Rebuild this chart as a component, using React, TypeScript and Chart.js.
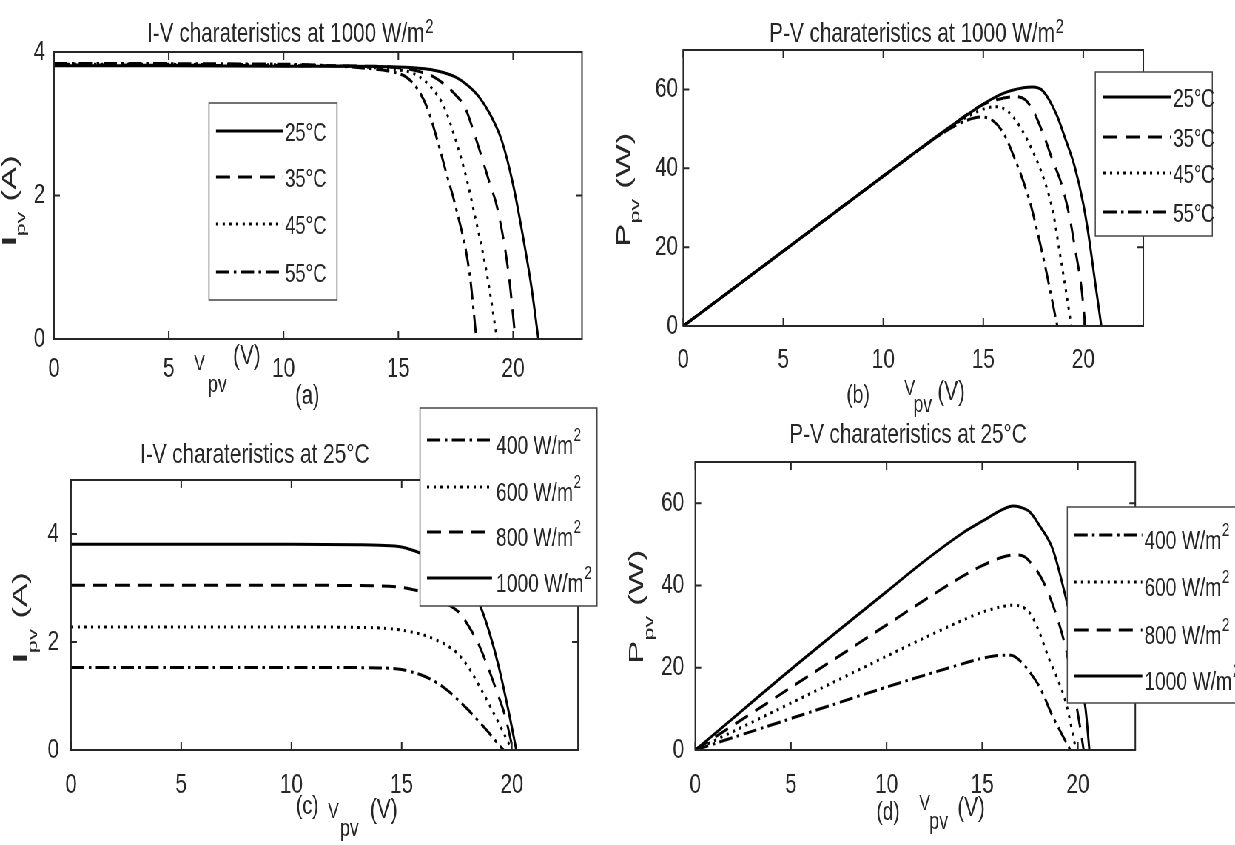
import React, { useEffect, useRef } from 'react';
import { Chart, registerables } from 'chart.js';
Chart.register(...registerables);

// horizontal compression of the whole figure (the reference is squeezed sideways)
const S = 0.74;
const FONT = '"Liberation Sans", Arial, Helvetica, sans-serif';
const INK = '#262626';

// ---------- data ----------
const TEMP_LABELS = ['25°C', '35°C', '45°C', '55°C'];
const IRR_LABELS = ['400 W/m^2', '600 W/m^2', '800 W/m^2', '1000 W/m^2'];
const TITLES = [
  'I-V charateristics at 1000 W/m^2',
  'P-V charateristics at 1000 W/m^2',
  'I-V charateristics at 25°C',
  'P-V charateristics at 25°C',
];

// (a) I-V at 1000 W/m2
const VA25 = [0, 5, 10, 13, 15, 16, 16.5, 17, 17.5, 18, 18.5, 19, 19.5, 20, 20.5, 20.8, 21.1];
const IA25 = [3.81, 3.81, 3.8, 3.8, 3.79, 3.77, 3.75, 3.71, 3.65, 3.54, 3.38, 3.13, 2.77, 2.15, 1.3, 0.72, 0];
const VA35 = [0, 10, 14, 15, 15.5, 16, 16.5, 17, 17.5, 17.9, 18.4, 19, 19.3, 19.8, 20.1];
const IA35 = [3.82, 3.81, 3.8, 3.78, 3.76, 3.72, 3.66, 3.55, 3.4, 3.23, 2.77, 2.15, 1.84, 0.92, 0];
const VA45 = [0, 10, 13, 14, 15, 15.5, 15.9, 16.5, 17, 17.5, 18, 18.25, 18.85, 19.3];
const IA45 = [3.83, 3.82, 3.8, 3.78, 3.75, 3.72, 3.66, 3.48, 3.23, 2.77, 2.2, 1.84, 0.92, 0];
const VA55 = [0, 10, 12, 13, 14, 14.5, 15, 15.3, 15.8, 16.25, 16.7, 17.1, 17.5, 18.1, 18.4];
const IA55 = [3.84, 3.83, 3.81, 3.79, 3.76, 3.74, 3.7, 3.66, 3.5, 3.23, 2.77, 2.3, 1.84, 0.92, 0];

// (b) P-V at 1000 W/m2
const VB25 = [0, 5, 10, 13, 15, 16, 17, 17.45, 18, 18.67, 19.1, 19.57, 20, 20.25, 20.6, 20.9];
const PB25 = [0, 19, 38, 49.3, 56.3, 59, 60.4, 60.6, 59.5, 53.5, 47.5, 40.4, 31, 23.5, 10.8, 0];
const VB35 = [0, 5, 10, 13, 15, 16, 16.6, 17.1, 17.5, 17.98, 18.5, 18.9, 19.3, 19.6, 19.9, 20.1];
const PB35 = [0, 19, 38, 49.2, 56.2, 57.8, 58.2, 57.4, 54.5, 48.9, 41.5, 36.2, 28, 19.3, 10, 0];
const VB45 = [0, 5, 10, 13, 14, 15, 15.6, 16, 16.5, 17.2, 18.1, 18.5, 18.8, 19.1, 19.4];
const PB45 = [0, 19, 38, 49.1, 52.5, 55, 55.6, 55.2, 53, 47.2, 36.2, 28.5, 19.3, 10, 0];
const VB55 = [0, 5, 10, 13, 14, 14.9, 15.5, 16, 16.4, 17.3, 17.7, 18.1, 18.4, 18.7];
const PB55 = [0, 19, 38, 49, 51.8, 53, 52, 49, 44.6, 32, 24, 15, 7.5, 0];

// (c) I-V at 25°C
const VC400 = [0, 10, 14, 15, 15.5, 16, 16.5, 17, 17.5, 18, 18.5, 19, 19.3, 19.62];
const IC400 = [1.53, 1.53, 1.52, 1.49, 1.44, 1.37, 1.27, 1.13, 0.95, 0.75, 0.53, 0.3, 0.15, 0];
const VC600 = [0, 10, 13, 14, 15, 16, 16.5, 17, 17.5, 18, 18.5, 19, 19.5, 20];
const IC600 = [2.28, 2.28, 2.27, 2.26, 2.22, 2.13, 2.05, 1.95, 1.8, 1.55, 1.2, 0.82, 0.42, 0];
const VC800 = [0, 10, 14, 15, 15.5, 16, 16.5, 17, 17.6, 18, 18.5, 18.9, 19.3, 19.7, 20.05];
const IC800 = [3.05, 3.05, 3.04, 3.01, 2.97, 2.92, 2.84, 2.72, 2.55, 2.32, 1.95, 1.55, 1.1, 0.62, 0];
const VC1000 = [0, 10, 13, 14, 15, 15.5, 16, 17, 17.5, 18, 18.55, 19, 19.4, 19.9, 20.2];
const IC1000 = [3.81, 3.81, 3.8, 3.79, 3.76, 3.7, 3.62, 3.45, 3.32, 3.08, 2.68, 2.15, 1.55, 0.62, 0];

// (d) P-V at 25°C
const VD400 = [0, 5, 10, 12, 14, 15, 16, 16.5, 17, 17.5, 18, 18.7, 19.2, 19.6];
const PD400 = [0, 7.65, 15.3, 18.2, 21, 22.3, 23, 23, 21.6, 18.8, 15.3, 8, 3.5, 0];
const VD600 = [0, 5, 10, 12, 14, 15, 16, 16.6, 17.2, 17.6, 18, 18.5, 18.9, 19.4, 19.9];
const PD600 = [0, 11.4, 22.8, 27.3, 31.6, 33.5, 34.8, 35.2, 34.5, 32.5, 28.4, 22, 17.7, 11, 0];
const VD800 = [0, 5, 10, 12, 14, 15, 16, 16.7, 17.2, 17.7, 18.15, 18.9, 19.4, 19.8, 20.1, 20.3];
const PD800 = [0, 15.2, 30.4, 36.5, 42.3, 44.8, 46.8, 47.4, 47, 44.5, 41.3, 32.4, 24, 14, 6, 0];
const VD1000 = [0, 1, 5, 10, 12, 14, 15, 16, 16.6, 17, 17.5, 18, 18.7, 19.4, 19.8, 20.1, 20.4, 20.6];
const PD1000 = [0, 3.9, 19.6, 38.5, 46, 52.8, 55.6, 58.3, 59.3, 59, 57.8, 54.5, 48.6, 36.4, 28, 18, 10, 0];

// ---------- styles ----------
const STYLES: Record<string, { dash: number[]; width: number }> = {
  solid: { dash: [], width: 3 },
  dashed: { dash: [19, 11], width: 3 },
  dotted: { dash: [3, 6], width: 3 },
  dashdot: { dash: [18, 6, 3.5, 6], width: 3 },
};

function mkDs(label: string, xs: number[], ys: number[], style: string) {
  return {
    label,
    data: xs.map((x, i) => ({ x, y: ys[i] })),
    borderColor: '#000',
    backgroundColor: '#000',
    borderWidth: STYLES[style].width,
    borderDash: STYLES[style].dash,
    borderCapStyle: 'butt',
    borderJoinStyle: 'round',
    pointRadius: 0,
    fill: false,
    cubicInterpolationMode: 'monotone',
  };
}

const PANELS: any[] = [
  {
    key: 'a', ox: 0, oy: 0, w: 620, h: 420,
    area: { l: 54, t: 52, r: 582, b: 339 }, yMax: 4, yStep: 2, xPad: 13, yPad: 12,
    datasets: () => [
      mkDs(TEMP_LABELS[0], VA25, IA25, 'solid'),
      mkDs(TEMP_LABELS[1], VA35, IA35, 'dashed'),
      mkDs(TEMP_LABELS[2], VA45, IA45, 'dotted'),
      mkDs(TEMP_LABELS[3], VA55, IA55, 'dashdot'),
    ],
    title: { text: TITLES[0], x: 147, y: 42 },
    xlab: [
      { t: 'V', x: 194, y: 370, size: 22 },
      { t: 'pv', x: 208, y: 392, size: 24 },
      { t: '(V)', x: 233, y: 364, size: 28 },
      { t: '(a)', x: 295, y: 404, size: 27 },
    ],
    ylab: { bx: 16, sy: 246, parts: [{ t: 'I', size: 27, bold: true, shift: 0 }, { t: 'pv', size: 18, shift: 9 }, { t: ' (A)', size: 27, shift: 0 }] },
    legend: { box: [209, 103, 337, 300], line: [216, 283], tx: 285, rows: [131, 177, 224, 272], dy: 9.5, size: 25 },
  },
  {
    key: 'b', ox: 605, oy: 0, w: 630, h: 420,
    area: { l: 683, t: 50, r: 1143, b: 326 }, yMax: 70, yStep: 20, xPad: 17, yPad: 7,
    datasets: () => [
      mkDs(TEMP_LABELS[0], VB25, PB25, 'solid'),
      mkDs(TEMP_LABELS[1], VB35, PB35, 'dashed'),
      mkDs(TEMP_LABELS[2], VB45, PB45, 'dotted'),
      mkDs(TEMP_LABELS[3], VB55, PB55, 'dashdot'),
    ],
    title: { text: TITLES[1], x: 769, y: 42 },
    xlab: [
      { t: '(b)', x: 846, y: 403, size: 26 },
      { t: 'V', x: 904, y: 395, size: 22 },
      { t: 'pv', x: 913, y: 412, size: 24 },
      { t: '(V)', x: 937, y: 400, size: 28 },
    ],
    ylab: { bx: 630, sy: 247, parts: [{ t: 'P', size: 27, shift: 0 }, { t: 'pv', size: 18, shift: 9 }, { t: ' (W)', size: 27, shift: 0 }] },
    legend: { box: [1095, 72, 1212, 236], line: [1103, 1171], tx: 1173, rows: [97, 137, 173, 212], dy: 9.5, size: 25 },
  },
  {
    key: 'c', ox: 0, oy: 400, w: 620, h: 445,
    area: { l: 71, t: 480, r: 578, b: 750 }, yMax: 5, yStep: 2, xPad: 18, yPad: 16,
    datasets: () => [
      mkDs(IRR_LABELS[0], VC400, IC400, 'dashdot'),
      mkDs(IRR_LABELS[1], VC600, IC600, 'dotted'),
      mkDs(IRR_LABELS[2], VC800, IC800, 'dashed'),
      mkDs(IRR_LABELS[3], VC1000, IC1000, 'solid'),
    ],
    title: { text: TITLES[2], x: 140, y: 463 },
    xlab: [
      { t: '(c)', x: 296, y: 814, size: 26 },
      { t: 'V', x: 328, y: 818, size: 22 },
      { t: 'pv', x: 340, y: 836, size: 24 },
      { t: '(V)', x: 370, y: 818, size: 28 },
    ],
    ylab: { bx: 27, sy: 663, parts: [{ t: 'I', size: 27, bold: true, shift: 0 }, { t: 'pv', size: 18, shift: 10 }, { t: ' (A)', size: 27, shift: 0 }] },
    legend: { box: [420, 408, 597, 606], line: [427, 492], tx: 496, rows: [440, 487, 532, 578], dy: 14, size: 26 },
  },
  {
    key: 'd', ox: 605, oy: 400, w: 630, h: 445,
    area: { l: 695, t: 462, r: 1135, b: 750 }, yMax: 70, yStep: 20, xPad: 18, yPad: 15,
    datasets: () => [
      mkDs(IRR_LABELS[0], VD400, PD400, 'dashdot'),
      mkDs(IRR_LABELS[1], VD600, PD600, 'dotted'),
      mkDs(IRR_LABELS[2], VD800, PD800, 'dashed'),
      mkDs(IRR_LABELS[3], VD1000, PD1000, 'solid'),
    ],
    title: { text: TITLES[3], x: 789, y: 443 },
    xlab: [
      { t: '(d)', x: 876, y: 820, size: 26 },
      { t: 'V', x: 919, y: 810, size: 22 },
      { t: 'pv', x: 929, y: 829, size: 24 },
      { t: '(V)', x: 957, y: 816, size: 28 },
    ],
    ylab: { bx: 643, sy: 664, parts: [{ t: 'P', size: 27, shift: 0 }, { t: 'pv', size: 18, shift: 10 }, { t: ' (W)', size: 27, shift: 0 }] },
    legend: { box: [1067, 507, 1250, 703], line: [1074, 1142], tx: 1144, rows: [535, 582, 630, 676], dy: 14, size: 26 },
  },
];

// text with "^x" superscripts
function drawRich(ctx: CanvasRenderingContext2D, text: string, x: number, y: number, size: number, raise: number) {
  const segs = text.split('^');
  ctx.font = `${size}px ${FONT}`;
  ctx.fillText(segs[0], x, y);
  let cx = x + ctx.measureText(segs[0]).width;
  for (let i = 1; i < segs.length; i++) {
    const sup = segs[i].slice(0, 1);
    const rest = segs[i].slice(1);
    const ss = Math.round(size * 0.7);
    ctx.font = `${ss}px ${FONT}`;
    ctx.fillText(sup, cx + 1, y - size * raise);
    cx += ctx.measureText(sup).width + 1;
    if (rest) {
      ctx.font = `${size}px ${FONT}`;
      ctx.fillText(rest, cx, y);
      cx += ctx.measureText(rest).width;
    }
  }
}

const framePlugin = {
  id: 'frame',
  afterDatasetsDraw(chart: any) {
    const { ctx, chartArea: a, scales } = chart;
    ctx.save();
    ctx.strokeStyle = INK;
    ctx.lineWidth = 2;
    ctx.setLineDash([]);
    ctx.strokeRect(a.left, a.top, a.right - a.left, a.bottom - a.top);
    ctx.beginPath();
    scales.x.ticks.forEach((t: any) => {
      const p = scales.x.getPixelForValue(t.value);
      ctx.moveTo(p, a.bottom); ctx.lineTo(p, a.bottom - 8);
      ctx.moveTo(p, a.top); ctx.lineTo(p, a.top + 8);
    });
    scales.y.ticks.forEach((t: any) => {
      const p = scales.y.getPixelForValue(t.value);
      ctx.moveTo(a.left, p); ctx.lineTo(a.left + 8, p);
      ctx.moveTo(a.right, p); ctx.lineTo(a.right - 8, p);
    });
    ctx.stroke();
    ctx.restore();
  },
};

function makeTextPlugin(cfg: any) {
  return {
    id: 'texts',
    afterDraw(chart: any) {
      const ctx: CanvasRenderingContext2D = chart.ctx;
      const X = (px: number) => (px - cfg.ox) / S;
      const Y = (py: number) => py - cfg.oy;
      ctx.save();
      ctx.textAlign = 'left';
      ctx.textBaseline = 'alphabetic';
      ctx.fillStyle = INK;
      // title
      drawRich(ctx, cfg.title.text, X(cfg.title.x), Y(cfg.title.y), 28, 0.33);
      // x label + panel tag
      cfg.xlab.forEach((p: any) => {
        ctx.font = `${p.size}px ${FONT}`;
        ctx.fillText(p.t, X(p.x), Y(p.y));
      });
      // y label (rotated, read upward)
      const yl = cfg.ylab;
      const stretch = 1.3;
      let yy = Y(yl.sy);
      yl.parts.forEach((p: any) => {
        ctx.font = `${p.bold ? 'bold ' : ''}${p.size}px ${FONT}`;
        const w = ctx.measureText(p.t).width * stretch;
        ctx.save();
        ctx.translate(X(yl.bx) + p.shift / S, yy);
        ctx.rotate(-Math.PI / 2);
        ctx.scale(stretch, 1);
        ctx.fillText(p.t, 0, 0);
        ctx.restore();
        yy -= w;
      });
      // legend
      const L = cfg.legend;
      const [x1, y1, x2, y2] = L.box;
      ctx.fillStyle = '#fff';
      ctx.fillRect(X(x1), Y(y1), X(x2) - X(x1), y2 - y1);
      ctx.strokeStyle = '#444';
      ctx.lineWidth = 1.5;
      ctx.setLineDash([]);
      ctx.strokeRect(X(x1), Y(y1), X(x2) - X(x1), y2 - y1);
      L.rows.forEach((ry: number, i: number) => {
        const ds = chart.data.datasets[i];
        ctx.save();
        ctx.strokeStyle = '#000';
        ctx.lineWidth = ds.borderWidth;
        ctx.lineCap = 'butt';
        ctx.setLineDash(ds.borderDash);
        ctx.beginPath();
        ctx.moveTo(X(L.line[0]), Y(ry));
        ctx.lineTo(X(L.line[1]), Y(ry));
        ctx.stroke();
        ctx.restore();
        ctx.fillStyle = INK;
        drawRich(ctx, ds.label, X(L.tx), Y(ry + L.dy), L.size, 0.5);
      });
      ctx.restore();
    },
  };
}

function Panel({ cfg }: { cfg: any }) {
  const ref = useRef<HTMLCanvasElement>(null);
  const cw = Math.round(cfg.w / S);
  useEffect(() => {
    if (!ref.current) return;
    const a = cfg.area;
    const chart = new Chart(ref.current, {
      type: 'line',
      data: { datasets: cfg.datasets() },
      options: {
        responsive: false,
        animation: false,
        devicePixelRatio: 1,
        events: [],
        layout: { padding: { left: 0, top: a.t - cfg.oy, right: cw - (a.r - cfg.ox) / S, bottom: 0 } },
        plugins: { legend: { display: false }, title: { display: false }, tooltip: { enabled: false } },
        scales: {
          x: {
            type: 'linear', min: 0, max: 23,
            grid: { display: false, drawTicks: false },
            border: { display: false },
            ticks: { stepSize: 5, includeBounds: false, autoSkip: false, maxRotation: 0, padding: cfg.xPad, color: INK, font: { family: FONT, size: 28 } },
            afterFit: (s: any) => { s.height = cfg.oy + cfg.h - a.b; },
          },
          y: {
            type: 'linear', min: 0, max: cfg.yMax,
            grid: { display: false, drawTicks: false },
            border: { display: false },
            ticks: { stepSize: cfg.yStep, includeBounds: false, autoSkip: false, padding: cfg.yPad, color: INK, font: { family: FONT, size: 28 } },
            afterFit: (s: any) => { s.width = (a.l - cfg.ox) / S; },
          },
        },
      } as any,
      plugins: [framePlugin, makeTextPlugin(cfg)],
    });
    return () => chart.destroy();
  }, []);
  return (
    <canvas
      ref={ref}
      width={cw}
      height={cfg.h}
      style={{ position: 'absolute', left: cfg.ox / S, top: cfg.oy }}
    />
  );
}

export default function App() {
  return (
    <div style={{ position: 'fixed', left: 0, top: 0, width: 1235, height: 845, overflow: 'hidden', background: '#fff' }}>
      <div
        style={{
          position: 'absolute', left: 0, top: 0, width: 1235 / S, height: 845,
          transform: `scaleX(${S})`, transformOrigin: '0 0',
        }}
      >
        {PANELS.map((p) => (
          <Panel key={p.key} cfg={p} />
        ))}
      </div>
    </div>
  );
}
